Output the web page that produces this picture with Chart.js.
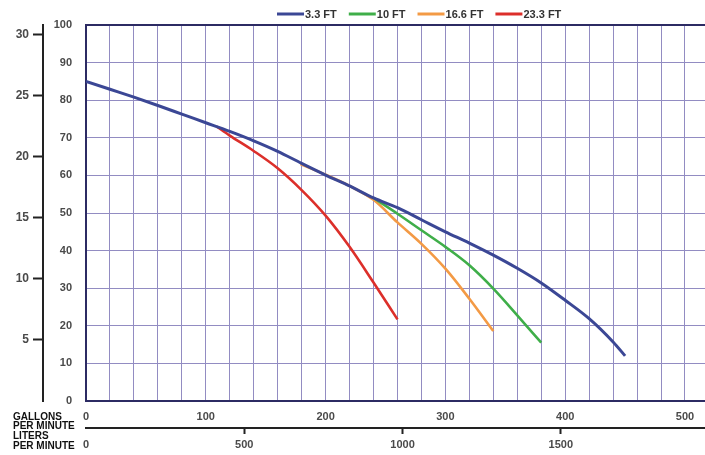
<!DOCTYPE html>
<html>
<head>
<meta charset="utf-8">
<script src="https://cdn.jsdelivr.net/npm/chart.js@4.4.1/dist/chart.umd.min.js"></script>
<style>
html, body { margin: 0; padding: 0; background: #fff; }
#wrap { width: 705px; height: 455px; position: relative; }
</style>
</head>
<body>
<div id="wrap"><canvas id="pumpChart"></canvas></div>
<script>
// 곡선 이름과 색
const seriesLabels = ['3.3 FT', '10 FT', '16.6 FT', '23.3 FT'];
const seriesColors = ['#3b4795', '#3fae49', '#f39a45', '#dc2f2a'];

// 유량 (GPM) / 양정 (FT)
const flow33 = [0, 20, 40, 60, 80, 100, 120, 140, 160, 180, 200, 220, 240, 260, 280, 300, 320, 340, 360, 380, 400, 420, 440, 450];
const head33 = [85, 82.9, 80.8, 78.6, 76.3, 74, 71.7, 69.2, 66.4, 63.2, 60.1, 57.2, 54, 51.4, 48.2, 45, 42, 38.8, 35.3, 31.4, 26.8, 21.9, 15.7, 12];

const flow10 = [240, 260, 280, 300, 320, 340, 360, 380];
const head10 = [54, 49.8, 45.4, 41, 36.1, 29.9, 22.8, 15.5];

const flow166 = [179, 200, 220, 240, 260, 280, 300, 320, 340];
const head166 = [63, 60.2, 57.2, 53.5, 47.5, 41.8, 35.2, 27.2, 18.6];

const flow233 = [109, 120, 140, 160, 180, 200, 220, 240, 260];
const head233 = [73, 70.6, 66.5, 61.9, 56.1, 49.3, 41, 31.5, 21.7];

// 눈금 라벨
const gpmTicks = [0, 100, 200, 300, 400, 500];
const lpmTicks = [0, 500, 1000, 1500];
const meterTicks = [5, 10, 15, 20, 25, 30];
const axisNotes = ['GALLONS', 'PER MINUTE', 'LITERS', 'PER MINUTE'];

const GPM_MAX = 516.7;
const GPM_GRID = 20;
const LPM_PER_GAL = 3.785;

const gridColor = '#928cc2';
const frameColor = '#2c2b63';
const boldFont = { family: '"Liberation Sans", Arial', size: 11, weight: 'bold' };

function toPoints(xs, ys) {
    return xs.map(function(x, i) { return { x: x, y: ys[i] }; });
}

function fixedTicks(values) {
    return function(scale) {
        scale.ticks = values.map(function(v) { return { value: v }; });
    };
}

const gridValues = [];
for (let v = 0; v <= GPM_MAX; v += GPM_GRID) gridValues.push(v);

const curves = [
    toPoints(flow33, head33),
    toPoints(flow10, head10),
    toPoints(flow166, head166),
    toPoints(flow233, head233)
];

// 범례와 왼쪽 아래 단위 글씨
const extrasPlugin = {
    id: 'extras',
    afterDraw: function(chart) {
        const ctx = chart.ctx;
        ctx.save();
        ctx.font = 'bold 11px "Liberation Sans", Arial, sans-serif';
        ctx.textBaseline = 'middle';
        let x = 277;
        chart.data.datasets.forEach(function(ds) {
            ctx.strokeStyle = ds.borderColor;
            ctx.lineWidth = 3;
            ctx.beginPath();
            ctx.moveTo(x, 14);
            ctx.lineTo(x + 27, 14);
            ctx.stroke();
            ctx.fillStyle = '#333';
            ctx.textAlign = 'left';
            ctx.fillText(ds.label, x + 28, 14.5);
            x += 28 + ctx.measureText(ds.label).width + 12;
        });

        ctx.font = 'bold 10px "Liberation Sans Narrow", "Liberation Sans", Arial, sans-serif';
        ctx.fillStyle = '#111';
        axisNotes.forEach(function(t, i) {
            ctx.fillText(t, 13, 417 + i * 9.7);
        });
        ctx.restore();
    }
};

document.addEventListener('DOMContentLoaded', function() {
    const ctx = document.getElementById('pumpChart').getContext('2d');
    new Chart(ctx, {
        type: 'line',
        data: {
            datasets: seriesLabels.map(function(label, i) {
                return {
                    label: label,
                    data: curves[i],
                    borderColor: seriesColors[i],
                    backgroundColor: seriesColors[i],
                    borderWidth: i === 0 ? 3 : 2.6,
                    pointRadius: 0,
                    pointHoverRadius: 0,
                    fill: false,
                    cubicInterpolationMode: 'monotone',
                    xAxisID: 'x',
                    yAxisID: 'y'
                };
            })
        },
        options: {
            responsive: true,
            maintainAspectRatio: false,
            animation: false,
            layout: { autoPadding: false, padding: { top: 25, right: 0, left: 0, bottom: 0 } },
            plugins: {
                legend: { display: false },
                tooltip: { enabled: false }
            },
            scales: {
                x: {
                    type: 'linear',
                    position: 'bottom',
                    weight: 0,
                    min: 0,
                    max: GPM_MAX,
                    afterBuildTicks: fixedTicks(gridValues),
                    afterFit: function(s) { s.height = 27; },
                    ticks: {
                        autoSkip: false,
                        maxRotation: 0,
                        padding: 9,
                        color: '#4a4a4a',
                        font: boldFont,
                        callback: function(v) { return gpmTicks.includes(v) ? String(v) : ''; }
                    },
                    grid: { drawTicks: false, color: gridColor, lineWidth: 1 },
                    border: { display: true, color: frameColor, width: 2 }
                },
                x2: {
                    type: 'linear',
                    position: 'bottom',
                    weight: 1,
                    min: 0,
                    max: GPM_MAX * LPM_PER_GAL,
                    afterBuildTicks: fixedTicks(lpmTicks),
                    afterFit: function(s) { s.height = 27; },
                    ticks: {
                        autoSkip: false,
                        maxRotation: 0,
                        padding: 4,
                        color: '#4a4a4a',
                        font: boldFont,
                        callback: function(v) { return String(v); }
                    },
                    grid: {
                        drawOnChartArea: false,
                        drawTicks: true,
                        tickLength: 6,
                        tickWidth: 2,
                        tickColor: function(c) {
                            return (c.tick && c.tick.value > 0) ? '#222' : 'rgba(0,0,0,0)';
                        }
                    },
                    border: { display: true, color: '#222', width: 2 }
                },
                y: {
                    type: 'linear',
                    position: 'left',
                    weight: 0,
                    min: 0,
                    max: 100,
                    afterFit: function(s) { s.width = 43; },
                    ticks: {
                        stepSize: 10,
                        padding: 14,
                        color: '#4a4a4a',
                        font: boldFont
                    },
                    grid: {
                        drawTicks: false,
                        color: function(c) {
                            return (c.tick && c.tick.value === 100) ? frameColor : gridColor;
                        },
                        lineWidth: function(c) {
                            return (c.tick && c.tick.value === 100) ? 2 : 1;
                        }
                    },
                    border: { display: true, color: frameColor, width: 2 }
                },
                y2: {
                    type: 'linear',
                    position: 'left',
                    weight: 1,
                    min: 0,
                    max: 30.8,
                    afterBuildTicks: fixedTicks(meterTicks),
                    afterFit: function(s) { s.width = 43; },
                    ticks: {
                        padding: 4,
                        color: '#4a4a4a',
                        font: { family: '"Liberation Sans", Arial', size: 12, weight: 'bold' },
                        callback: function(v) { return String(v); }
                    },
                    grid: {
                        drawOnChartArea: false,
                        drawTicks: true,
                        tickLength: 10,
                        tickWidth: 2,
                        tickColor: '#222'
                    },
                    border: { display: true, color: '#222', width: 2 }
                }
            }
        },
        plugins: [extrasPlugin]
    });
});
</script>
</body>
</html>
